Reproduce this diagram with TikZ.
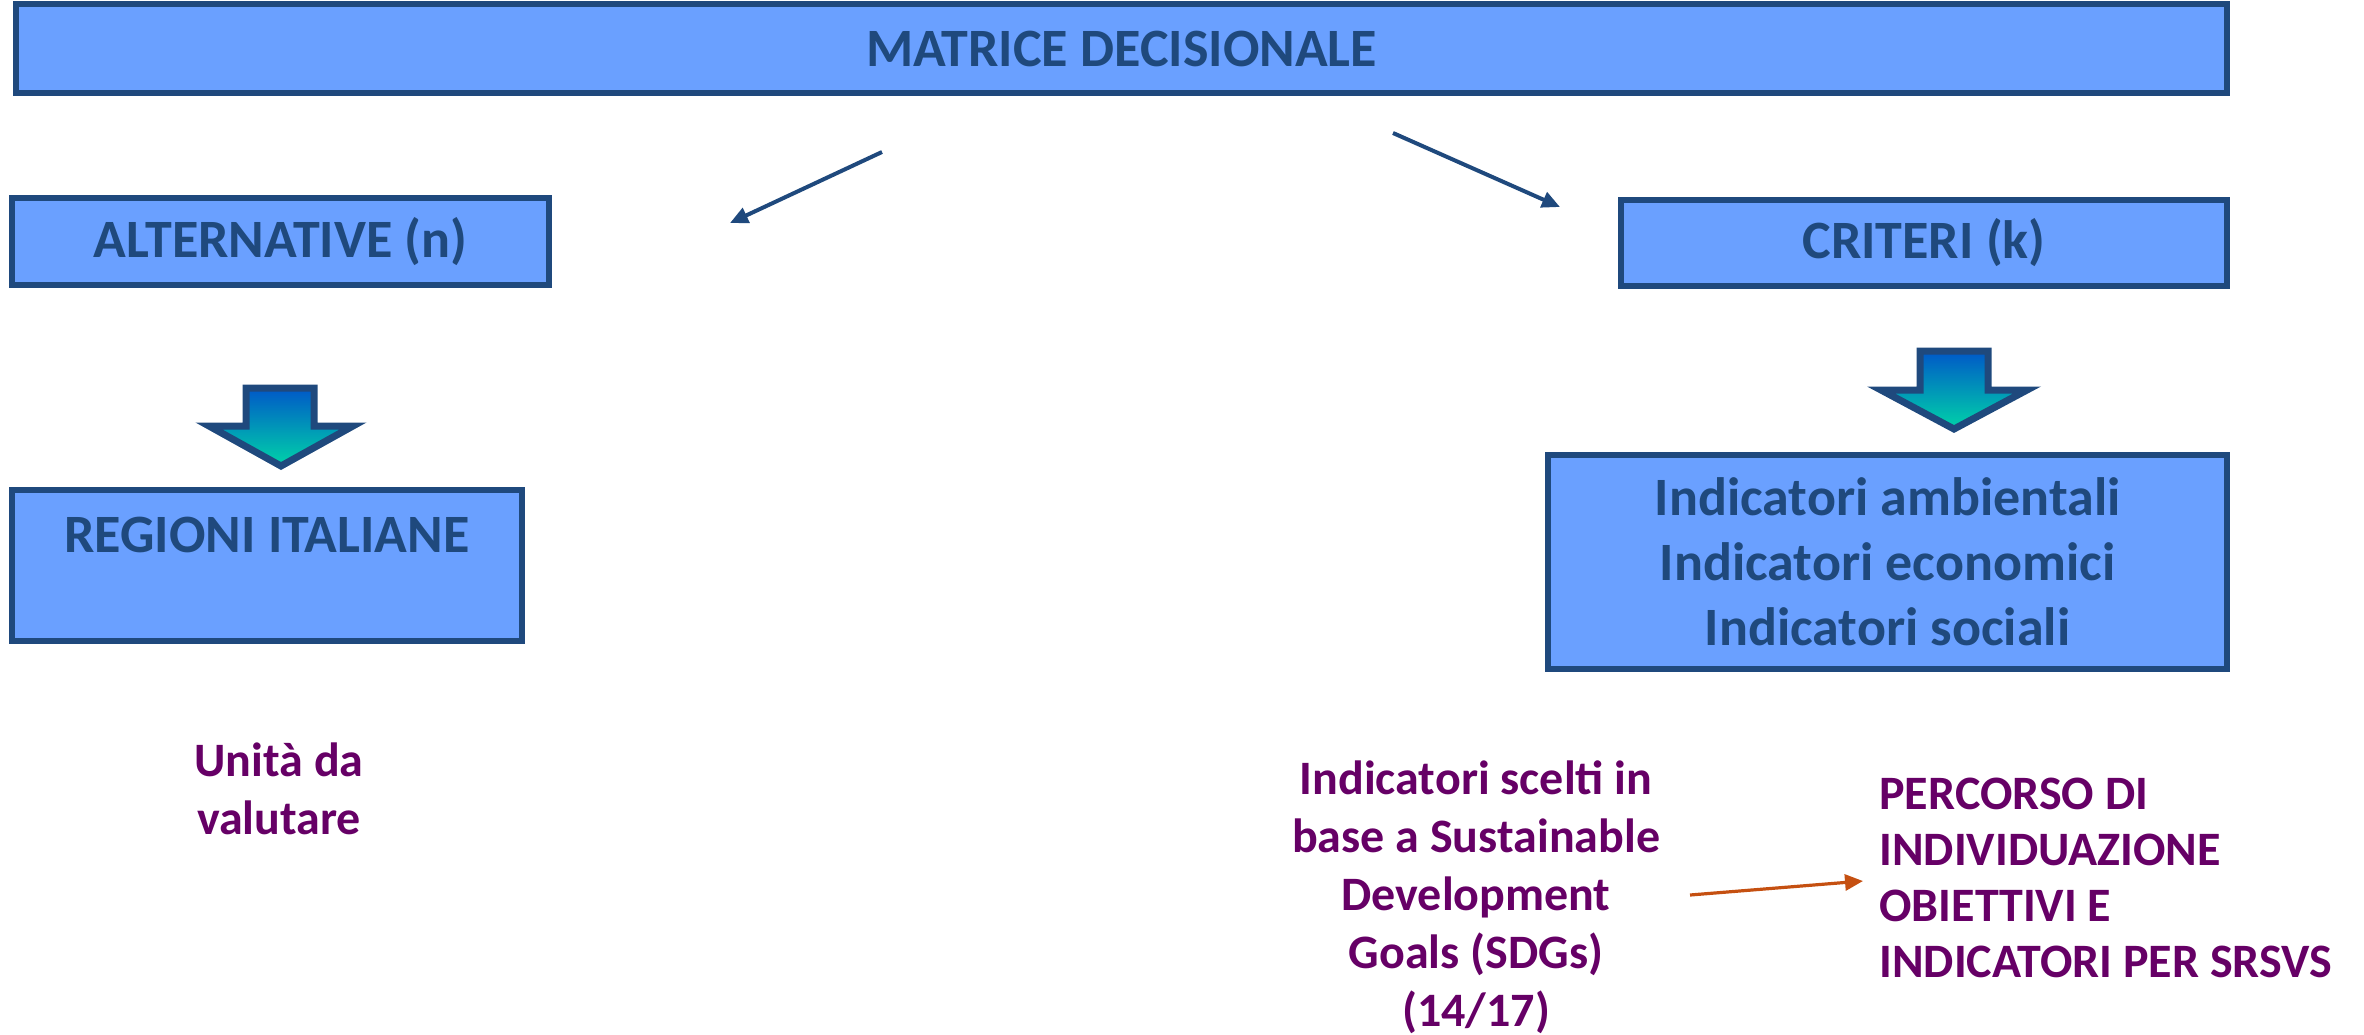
\documentclass[tikz,border=0pt]{standalone}
\usepackage{fontspec}
\setmainfont{Carlito}
\usetikzlibrary{arrows.meta}
\definecolor{boxfill}{RGB}{106,160,255}
\definecolor{navy}{RGB}{31,73,125}
\definecolor{plum}{RGB}{102,0,102}
\definecolor{rust}{RGB}{197,80,17}
\definecolor{arrtop}{RGB}{0,88,200}
\definecolor{arrbot}{RGB}{0,212,168}

\begin{document}
\begin{tikzpicture}[x=0.5pt,y=-0.5pt,
  box/.style={draw=navy, fill=boxfill, line width=3pt, inner sep=0pt,
    text=navy, font=\bfseries\fontsize{27}{32.5}\selectfont, align=center},
  boxtext/.style={text=navy, font=\bfseries\fontsize{27}{32.5}\selectfont, inner sep=0pt},
  note/.style={text=plum, font=\bfseries\fontsize{24}{29}\selectfont,
    inner sep=0pt},
  link/.style={draw=navy, line width=2pt, -{Triangle[length=9pt,width=8pt]}},
  rlink/.style={draw=rust, line width=1.6pt, -{Triangle[length=9pt,width=8pt]}},
  downarrow/.style={draw=navy, line width=3.5pt, line join=miter,
    top color=arrtop, bottom color=arrbot}]

\useasboundingbox (0,0) rectangle (2364,1034);

% boxes
\node[box, minimum width=1105.5pt, minimum height=44.5pt] (matrix) at (1121.5,48.5) {MATRICE DECISIONALE};
\node[box, minimum width=268.5pt, minimum height=43.5pt] (alt) at (280.5,241.5) {ALTERNATIVE (n)};
\node[box, minimum width=303pt, minimum height=43pt] (crit) at (1924,243) {CRITERI (k)};
\node[box, minimum width=255pt, minimum height=75.5pt] (reg) at (267,565.5) {};
\node[boxtext] (regtxt) at (267,535) {REGIONI ITALIANE};
\node[box, minimum width=339.5pt, minimum height=107pt] (ind) at (1887.5,562)
  {Indicatori ambientali\\Indicatori economici\\Indicatori sociali};

% thin connectors from the top box
\coordinate (lsrc) at (882,152);
\coordinate (ldst) at (730,223);
\coordinate (rsrc) at (1393,133);
\coordinate (rdst) at (1560,207);
\draw[link] (lsrc) -- (ldst);
\draw[link] (rsrc) -- (rdst);

% block arrows
\path[downarrow] (246,388) -- (314,388) -- (314,426) -- (353,426) -- (281,466)
  -- (209,426) -- (246,426) -- cycle;
\path[downarrow] (1920,351) -- (1988,351) -- (1988,390) -- (2027,390) -- (1954,429)
  -- (1881,390) -- (1920,390) -- cycle;

% notes
\node[note, align=center] (unita) at (279,788.5) {Unità da\\valutare};
\node[note, align=center] (sdg) at (1476,897)
  {Indicatori scelti in\\base a Sustainable\\Development\\Goals (SDGs)\\(14/17)};
\node[note, align=left, anchor=west, font=\bfseries\fontsize{24}{28}\selectfont] (srsvs) at (1879,877.5)
  {PERCORSO DI\\INDIVIDUAZIONE\\OBIETTIVI E\\INDICATORI PER SRSVS};

\coordinate (rsrcb) at (1690,895);
\coordinate (rdstb) at (1863,881);
\draw[rlink] (rsrcb) -- (rdstb);
\end{tikzpicture}
\end{document}
